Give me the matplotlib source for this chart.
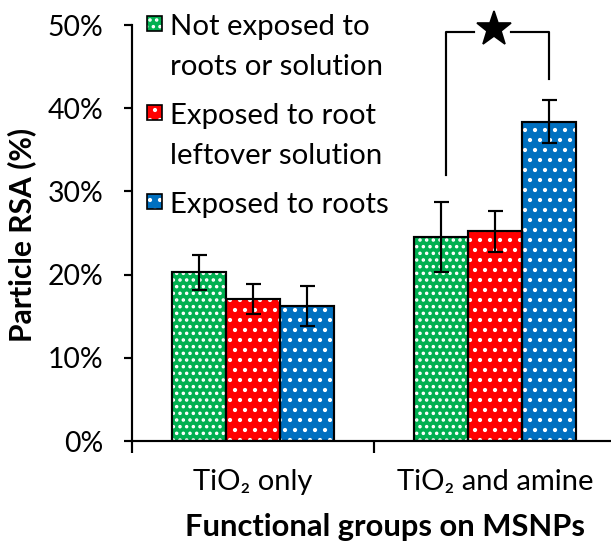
import matplotlib
matplotlib.use("Agg")
import matplotlib.pyplot as plt
from matplotlib.ticker import FuncFormatter
import numpy as np

# Data: particle RSA (fraction) with error bars
groups = ["TiO\u2082 only", "TiO\u2082 and amine"]
series = ["Not exposed to\nroots or solution",
          "Exposed to root\nleftover solution",
          "Exposed to roots"]
means = [
    [0.203, 0.245],   # not exposed
    [0.171, 0.252],   # exposed to leftover solution
    [0.162, 0.384],   # exposed to roots
]
errors = [
    [0.021, 0.042],
    [0.018, 0.025],
    [0.024, 0.026],
]
colors = ["#00B050", "#FF0000", "#0070C0"]
hatches = ["...", "..", ".."]
yticks = [0.0, 0.1, 0.2, 0.3, 0.4, 0.5]

FONT = ["Lato", "DejaVu Sans"]
plt.rcParams["font.family"] = FONT
plt.rcParams["hatch.linewidth"] = 1.3

DPI = 120
W, H = 611, 543
fig = plt.figure(figsize=(W / DPI, H / DPI), dpi=DPI)
ax = fig.add_axes([132 / W, 102 / H, 484 / W, 416 / H])

x = np.arange(len(groups))
bw = 0.223
offsets = [-bw, 0.0, bw]
for i in range(3):
    xs = x + offsets[i]
    # fill with white dot texture
    ax.bar(xs, means[i], width=bw, color=colors[i], hatch=hatches[i],
           edgecolor="white", linewidth=0, zorder=2)
    # black outline
    ax.bar(xs, means[i], width=bw, fill=False, edgecolor="black",
           linewidth=1.3, zorder=3)
    ax.errorbar(xs, means[i], yerr=errors[i], fmt="none", ecolor="black",
                elinewidth=1.3, capsize=4.5, capthick=1.3, zorder=4)

ax.set_xlim(-0.5, 1.5)
ax.set_ylim(0, 0.5)
ax.set_yticks(yticks)
ax.yaxis.set_major_formatter(FuncFormatter(lambda v, p: f"{v * 100:.0f}%"))
ax.tick_params(axis="y", direction="out", length=5, width=1.3, pad=12,
               labelsize=17)
ax.set_xticks(x)
ax.set_xticklabels(groups)
ax.tick_params(axis="x", which="major", length=0, pad=17, labelsize=17.5)
ax.set_xticks([-0.5, 0.5, 1.5], minor=True)
ax.tick_params(axis="x", which="minor", direction="out", length=7, width=1.3)

for s in ["top", "right"]:
    ax.spines[s].set_visible(False)
for s in ["left", "bottom"]:
    ax.spines[s].set_linewidth(1.3)

# significance bracket between the first and third series of group 2
bx_l, bx_r = 1 - bw + 0.02, 1 + bw
by = 0.492
lw = 1.3
ax.plot([bx_l, bx_l, 0.913], [0.320, by, by], color="black", lw=lw,
        clip_on=False, zorder=5)
ax.plot([1.066, bx_r, bx_r], [by, by, 0.435], color="black", lw=lw,
        clip_on=False, zorder=5)
ax.plot([0.995], [0.495], marker="*", color="black", markersize=22,
        clip_on=False, zorder=5)

# legend drawn as patches and labels in the upper left of the plot
leg_y = [35, 124, 213]   # baselines (px from top) of the first label line
line_gap = 40
for i in range(3):
    top = leg_y[i] - 19
    rect = plt.Rectangle((147 / W, 1 - (top + 15) / H), 15 / W, 15 / H,
                         transform=fig.transFigure, facecolor=colors[i],
                         hatch=hatches[i], edgecolor="white", linewidth=0)
    fig.add_artist(rect)
    fig.add_artist(plt.Rectangle((147 / W, 1 - (top + 15) / H), 15 / W,
                                 15 / H, transform=fig.transFigure,
                                 fill=False, edgecolor="black", linewidth=1.0))
    for k, line in enumerate(series[i].split("\n")):
        fig.text(170 / W, 1 - (leg_y[i] + k * line_gap) / H, line,
                 fontsize=17.6, ha="left", va="baseline")

fig.text(22 / W, 1 - 235 / H, "Particle RSA (%)", rotation=90,
         fontsize=18, fontweight="bold", ha="center", va="center")
fig.text(385 / W, 1 - 527 / H, "Functional groups on MSNPs",
         fontsize=18.5, fontweight="bold", ha="center", va="center")

fig.savefig("out.png", dpi=DPI)
